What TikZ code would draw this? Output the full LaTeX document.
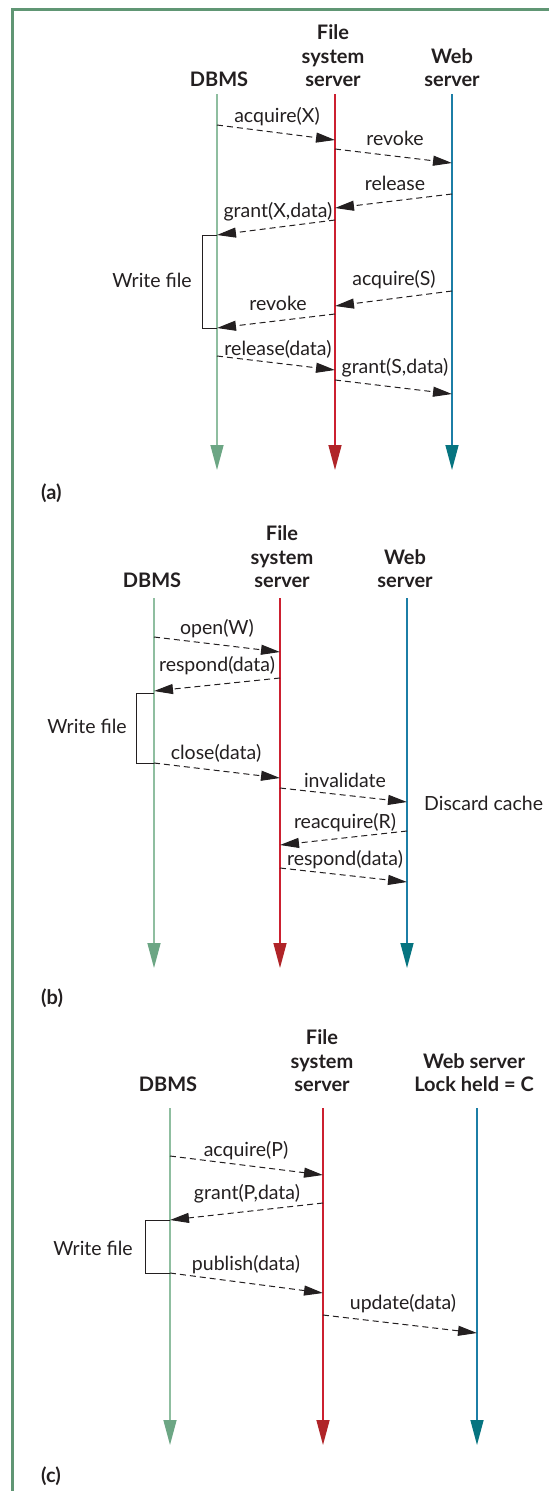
\documentclass[tikz,border=0pt]{standalone}
\usepackage{fontspec}
\setmainfont{Lato}
\usetikzlibrary{arrows.meta}
\definecolor{frame-green}{RGB}{96,150,116}
\definecolor{line-db}{RGB}{143,190,160}
\definecolor{head-db}{RGB}{108,166,132}
\definecolor{line-fs}{RGB}{204,32,48}
\definecolor{head-fs}{RGB}{176,36,40}
\definecolor{line-wb}{RGB}{28,126,166}
\definecolor{head-wb}{RGB}{6,116,128}
\definecolor{ink}{RGB}{35,31,32}
\begin{document}
\begin{tikzpicture}[x=1pt, y=-1pt,
    head/.style={font=\fontsize{20}{23.5}\selectfont\bfseries, align=center, anchor=south, inner sep=0pt, text=ink},
    lbl/.style={font=\fontsize{19.5}{22}\selectfont, anchor=base, inner sep=0pt, text=ink},
    tag/.style={font=\fontsize{20}{22}\selectfont\bfseries, anchor=base west, inner sep=0pt, text=ink},
    life/.style={draw=line-#1, line width=1.5pt, -{Triangle[length=25pt, width=13pt, color=head-#1]}},
    msg/.style={ink, line width=1pt, dash pattern=on 6pt off 4pt, -{Triangle[length=19pt, width=10pt]}},
    bracket/.style={ink, line width=1pt}]
    \useasboundingbox (0,0) rectangle (549,1491);
    % Frame
    \draw[frame-green, line width=3pt] (549,9.5) -- (12,9.5) -- (12,1491);

    % ---------- (a) ----------
    \node[head] (a-dbms) at (219,87) {DBMS};
    \node[head] (a-fss) at (333,87) {File\\system\\server};
    \node[head] (a-web) at (452,87) {Web\\server};
    \foreach \n/\x in {db/217, fs/335, wb/452}{
        \coordinate (a-\n) at (\x,94);
        \coordinate (a-\n-end) at (\x,470);
        \draw[life=\n] (a-\n) -- (a-\n-end);
    }
    % Messages
    \draw[msg] (a-db |- 0,125) -- (a-fs |- 0,140);
    \node[lbl] (a-m1) at (277,122) {acquire(X)};
    \draw[msg] (a-fs |- 0,149) -- (a-wb |- 0,163);
    \node[lbl] (a-m2) at (395,145) {revoke};
    \draw[msg] (a-wb |- 0,194) -- (a-fs |- 0,208);
    \node[lbl] (a-m3) at (395,190) {release};
    \draw[msg] (a-fs |- 0,220) -- (a-db |- 0,235);
    \node[lbl] (a-m4) at (278,217) {grant(X,data)};
    \draw[msg] (a-wb |- 0,291) -- (a-fs |- 0,306);
    \node[lbl] (a-m5) at (394,285) {acquire(S)};
    \draw[msg] (a-fs |- 0,314) -- (a-db |- 0,328);
    \node[lbl] (a-m6) at (278,310) {revoke};
    \draw[msg] (a-db |- 0,356) -- (a-fs |- 0,370);
    \node[lbl] (a-m7) at (278,355) {release(data)};
    \draw[msg] (a-fs |- 0,380) -- (a-wb |- 0,394);
    \node[lbl] (a-m8) at (395,373) {grant(S,data)};
    % Write file
    \draw[bracket] (a-db |- 0,235) -- (202,235) -- (202,328) -- (a-db |- 0,328);
    \node[lbl] (a-write) at (152,287) {Write file};
    \node[tag] (a-tag) at (41,499) {(a)};

    % ---------- (b) ----------
    \node[head] (b-dbms) at (152,588) {DBMS};
    \node[head] (b-fss) at (282,588) {File\\system\\server};
    \node[head] (b-web) at (405,588) {Web\\server};
    \foreach \n/\x in {db/154, fs/280, wb/407}{
        \coordinate (b-\n) at (\x,598);
        \coordinate (b-\n-end) at (\x,968);
        \draw[life=\n] (b-\n) -- (b-\n-end);
    }
    % Messages
    \draw[msg] (b-db |- 0,637) -- (b-fs |- 0,652);
    \node[lbl] (b-m1) at (217,634) {open(W)};
    \draw[msg] (b-fs |- 0,678) -- (b-db |- 0,691);
    \node[lbl] (b-m2) at (217,671) {respond(data)};
    \draw[msg] (b-db |- 0,763) -- (b-fs |- 0,778);
    \node[lbl] (b-m3) at (216,759) {close(data)};
    \draw[msg] (b-fs |- 0,788) -- (b-wb |- 0,802);
    \node[lbl] (b-m4) at (345,787) {invalidate};
    \draw[msg] (b-wb |- 0,831) -- (b-fs |- 0,845);
    \node[lbl] (b-m5) at (345,828) {reacquire(R)};
    \draw[msg] (b-fs |- 0,868) -- (b-wb |- 0,882);
    \node[lbl] (b-m6) at (345,865) {respond(data)};
    \node[lbl, anchor=base west] (b-discard) at (424,810) {Discard cache};
    % Write file
    \draw[bracket] (b-db |- 0,693) -- (136,693) -- (136,763) -- (b-db |- 0,763);
    \node[lbl] (b-write) at (87,733) {Write file};
    \node[tag] (b-tag) at (41,1004) {(b)};

    % ---------- (c) ----------
    \node[head] (c-dbms) at (168,1092) {DBMS};
    \node[head] (c-fss) at (322,1092) {File\\system\\server};
    \node[head] (c-web) at (474,1092) {Web server\\Lock held = C};
    \foreach \n/\x in {db/170, fs/323, wb/477}{
        \coordinate (c-\n) at (\x,1108);
        \coordinate (c-\n-end) at (\x,1445);
        \draw[life=\n] (c-\n) -- (c-\n-end);
    }
    % Messages
    \draw[msg] (c-db |- 0,1156) -- (c-fs |- 0,1175);
    \node[lbl] (c-m1) at (246,1156) {acquire(P)};
    \draw[msg] (c-fs |- 0,1203) -- (c-db |- 0,1220);
    \node[lbl] (c-m2) at (247,1199) {grant(P,data)};
    \draw[msg] (c-db |- 0,1273) -- (c-fs |- 0,1293);
    \node[lbl] (c-m3) at (246,1270) {publish(data)};
    \draw[msg] (c-fs |- 0,1315) -- (c-wb |- 0,1333);
    \node[lbl] (c-m4) at (403,1309) {update(data)};
    % Write file
    \draw[bracket] (c-db |- 0,1220) -- (145,1220) -- (145,1273) -- (c-db |- 0,1273);
    \node[lbl] (c-write) at (93,1255) {Write file};
    \node[tag] (c-tag) at (41,1482) {(c)};
\end{tikzpicture}
\end{document}
